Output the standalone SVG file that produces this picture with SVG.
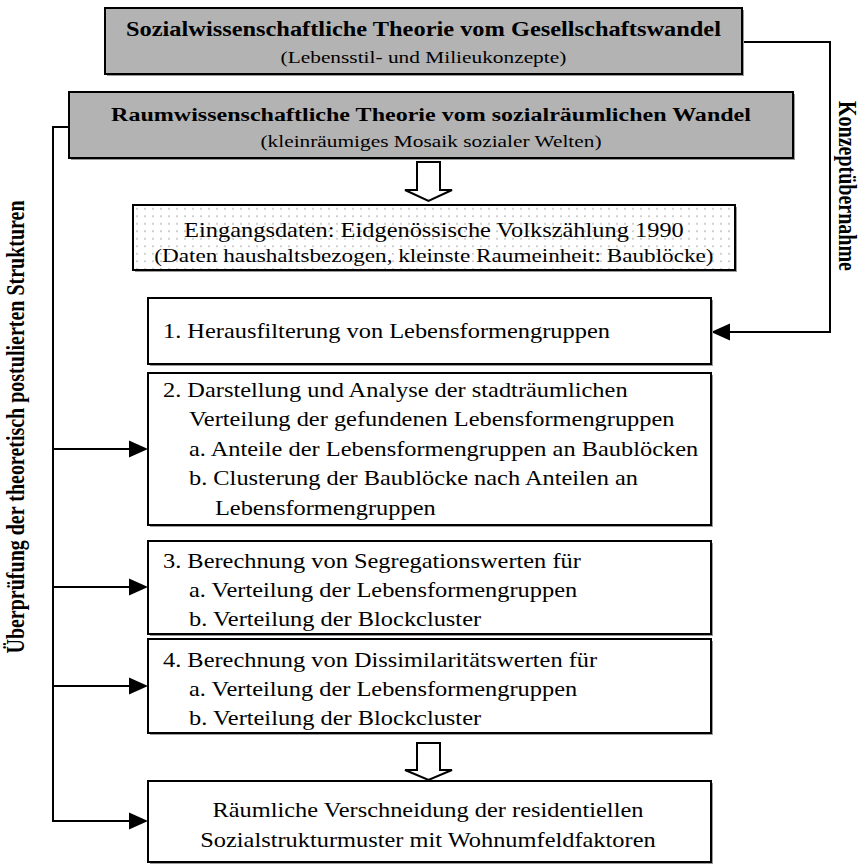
<svg xmlns="http://www.w3.org/2000/svg" width="863" height="864" viewBox="0 0 863 864">
  <style>
    .t { font-family: "Liberation Serif", "Times New Roman", serif; fill: #000; }
    .b { font-weight: bold; font-size: 20px; }
    .r { font-size: 20px; }
    .s { font-size: 17.5px; }
    .m { text-anchor: middle; }
    .box { fill: #fff; stroke: #000; stroke-width: 2; }
    .gray { fill: #b3b3b3; stroke: #000; stroke-width: 2; }
    .shadow { fill: #9a9a9a; }
    .line { fill: none; stroke: #000; stroke-width: 2; }
    .head { fill: #000; }
    .hollow { fill: #fff; stroke: #000; stroke-width: 2; stroke-linejoin: miter; }
  </style>
  <defs>
    <pattern id="dots" x="133" y="205" width="8" height="7.5" patternUnits="userSpaceOnUse">
      <rect width="8" height="7.5" fill="#fff"/>
      <rect x="3.2" y="3" width="1.6" height="1.6" fill="#b8b8b8"/>
    </pattern>
  </defs>

  <rect width="863" height="864" fill="#fff"/>

  <!-- connectors -->
  <g id="connectors">
    <path class="line" d="M742,42 H830 V332 H728"/>
    <polygon class="head" points="711,332 730,323.5 730,340.5"/>
    <path class="line" d="M69,127 H53 V821 H131"/>
    <path class="line" d="M53,449 H131 M53,587 H131 M53,686 H131"/>
    <polygon class="head" points="148,449 129,440.5 129,457.5"/>
    <polygon class="head" points="148,587 129,578.5 129,595.5"/>
    <polygon class="head" points="148,686 129,677.5 129,694.5"/>
    <polygon class="head" points="148,821 129,812.5 129,829.5"/>
    <polygon class="hollow" points="417,162 440,162 440,190 452,190 428.5,201 405,190 417,190"/>
    <polygon class="hollow" points="417,743 440,743 440,770 452,770 428.5,780 405,770 417,770"/>
  </g>

  <!-- side labels -->
  <g id="label-konzept">
    <text class="t b m" transform="translate(848,186) scale(1.22,1) rotate(90)" x="0" y="7">Konzeptübernahme</text>
  </g>
  <g id="label-pruefung">
    <text class="t b m" transform="translate(15,427) scale(1.22,1) rotate(-90)" x="0" y="7">Überprüfung der theoretisch postulierten Strukturen</text>
  </g>

  <!-- theory: society -->
  <g id="theory-society">
    <rect class="shadow" x="107" y="10" width="637" height="66"/>
    <rect class="gray" x="105" y="8" width="637" height="66"/>
    <g transform="scale(1.22,1)">
      <text class="t b m" x="347.1" y="36">Sozialwissenschaftliche Theorie vom Gesellschaftswandel</text>
      <text class="t s m" x="347.1" y="63">(Lebensstil- und Milieukonzepte)</text>
    </g>
  </g>

  <!-- theory: space -->
  <g id="theory-space">
    <rect class="shadow" x="71" y="94" width="724" height="66"/>
    <rect class="gray" x="69" y="92" width="724" height="66"/>
    <g transform="scale(1.22,1)">
      <text class="t b m" style="font-size:19.7px" x="353.3" y="121">Raumwissenschaftliche Theorie vom sozialräumlichen Wandel</text>
      <text class="t s m" x="353.3" y="147">(kleinräumiges Mosaik sozialer Welten)</text>
    </g>
  </g>

  <!-- input data -->
  <g id="input-data">
    <rect class="shadow" x="135" y="207" width="602" height="65"/>
    <rect x="133" y="205" width="602" height="65" fill="url(#dots)" stroke="#000" stroke-width="2"/>
    <g transform="scale(1.22,1)">
      <text class="t r m" x="355.7" y="237">Eingangsdaten: Eidgenössische Volkszählung 1990</text>
      <text class="t m" style="font-size:19px" x="355.7" y="262">(Daten haushaltsbezogen, kleinste Raumeinheit: Baublöcke)</text>
    </g>
  </g>

  <!-- step 1 -->
  <g id="step-1">
    <rect class="shadow" x="150" y="300" width="563" height="66"/>
    <rect class="box" x="148" y="298" width="563" height="66"/>
    <g transform="scale(1.22,1)">
      <text class="t r" x="133.6" y="338">1. Herausfilterung von Lebensformengruppen</text>
    </g>
  </g>

  <!-- step 2 -->
  <g id="step-2">
    <rect class="shadow" x="150" y="375" width="563" height="152"/>
    <rect class="box" x="148" y="373" width="563" height="152"/>
    <g transform="scale(1.22,1)">
      <text class="t r" x="133.6" y="397">2. Darstellung und Analyse der stadträumlichen</text>
      <text class="t r" x="154.9" y="426.5">Verteilung der gefundenen Lebensformengruppen</text>
      <text class="t r" x="154.9" y="456">a. Anteile der Lebensformengruppen an Baublöcken</text>
      <text class="t r" x="154.9" y="485.5">b. Clusterung der Baublöcke nach Anteilen an</text>
      <text class="t r" x="176.2" y="515">Lebensformengruppen</text>
    </g>
  </g>

  <!-- step 3 -->
  <g id="step-3">
    <rect class="shadow" x="150" y="543" width="563" height="93"/>
    <rect class="box" x="148" y="541" width="563" height="93"/>
    <g transform="scale(1.22,1)">
      <text class="t r" x="133.6" y="568">3. Berechnung von Segregationswerten für</text>
      <text class="t r" x="154.9" y="597">a. Verteilung der Lebensformengruppen</text>
      <text class="t r" x="154.9" y="626">b. Verteilung der Blockcluster</text>
    </g>
  </g>

  <!-- step 4 -->
  <g id="step-4">
    <rect class="shadow" x="150" y="641" width="563" height="94"/>
    <rect class="box" x="148" y="639" width="563" height="94"/>
    <g transform="scale(1.22,1)">
      <text class="t r" x="133.6" y="667">4. Berechnung von Dissimilaritätswerten für</text>
      <text class="t r" x="154.9" y="696">a. Verteilung der Lebensformengruppen</text>
      <text class="t r" x="154.9" y="725">b. Verteilung der Blockcluster</text>
    </g>
  </g>

  <!-- result -->
  <g id="result">
    <rect class="shadow" x="150" y="783" width="563" height="81"/>
    <rect class="box" x="148" y="781" width="563" height="81"/>
    <g transform="scale(1.22,1)">
      <text class="t r m" x="350.8" y="817">Räumliche Verschneidung der residentiellen</text>
      <text class="t r m" x="350.8" y="847">Sozialstrukturmuster mit Wohnumfeldfaktoren</text>
    </g>
  </g>
</svg>
